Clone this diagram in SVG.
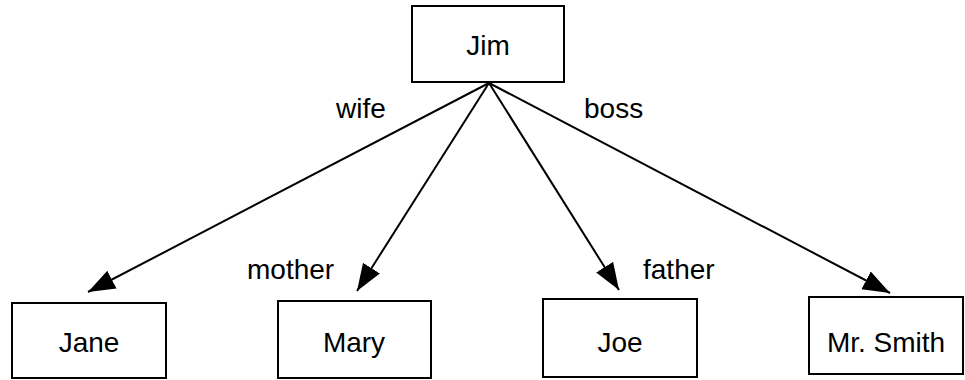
<svg xmlns="http://www.w3.org/2000/svg" width="965" height="380" viewBox="0 0 965 380">
<style>
.box{fill:#fff;stroke:#000;stroke-width:2}
.t{font-family:"Liberation Sans",Arial,sans-serif;font-size:28px;fill:#000}
.c{text-anchor:middle}
.e{stroke:#000;stroke-width:2;fill:none}
</style>
<defs>
<marker id="ah" markerUnits="userSpaceOnUse" markerWidth="28" markerHeight="22" refX="27" refY="10" orient="auto" viewBox="0 0 28 20">
<path d="M0,0 L27,10 L0,20 z" fill="#000"/>
</marker>
</defs>
<rect width="965" height="380" fill="#fff"/>
<g id="edges">
<line class="e" x1="489" y1="83" x2="88" y2="292" marker-end="url(#ah)"/>
<line class="e" x1="489" y1="83" x2="357" y2="291" marker-end="url(#ah)"/>
<line class="e" x1="489" y1="83" x2="619" y2="290" marker-end="url(#ah)"/>
<line class="e" x1="489" y1="83" x2="890" y2="293" marker-end="url(#ah)"/>
<text class="t" x="336" y="118">wife</text>
<text class="t" x="247" y="279">mother</text>
<text class="t" x="643" y="279">father</text>
<text class="t" x="584" y="118">boss</text>
</g>
<g id="jim"><rect class="box" x="412" y="6" width="152" height="76"/><text class="t c" x="488" y="55">Jim</text></g>
<g id="jane"><rect class="box" x="12" y="303" width="154" height="75"/><text class="t c" x="89" y="352">Jane</text></g>
<g id="mary"><rect class="box" x="278" y="301" width="153" height="77"/><text class="t c" x="354" y="352">Mary</text></g>
<g id="joe"><rect class="box" x="543" y="299" width="154" height="78"/><text class="t c" x="620" y="352">Joe</text></g>
<g id="smith"><rect class="box" x="809" y="297" width="154" height="77"/><text class="t c" x="886" y="352">Mr. Smith</text></g>
</svg>
